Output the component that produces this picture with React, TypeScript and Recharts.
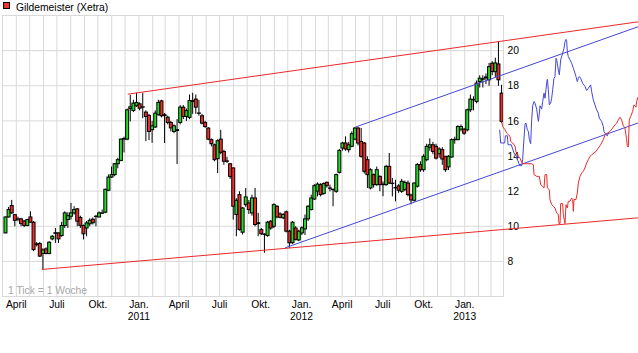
import React from 'react';
import {
  ComposedChart,
  Bar,
  Line,
  XAxis,
  YAxis,
  CartesianGrid,
  ReferenceLine,
} from 'recharts';

const FONT = "'Liberation Sans', Arial, sans-serif";
const FONT_SIZE = 10.3;
const GRID = '#d9d9d9';
const UP = '#28d828';
const DOWN = '#ee2c2c';
const RED_LINE = '#e82a2a';
const BLUE_LINE = '#4646d6';

// x axis is in days since 1 April 2010
const DAY0 = Date.UTC(2010, 3, 1);
const MS_DAY = 86400000;
const X_START = -31; // 1 March 2010
const X_END = 1093;

// weekly candles [open, high, low, close]
const firstCandleDay = -24;
const ohlc: [number, number, number, number][] = [
  [9.62, 10.55, 9.6, 10.53], [10.53, 11.1, 10.5, 10.95], [11.18, 11.5, 10.7, 10.76], [10.66, 10.7, 10.0, 10.34],
  [10.4, 10.55, 10.28, 10.42], [10.42, 10.48, 10.0, 10.15], [10.3, 10.35, 9.95, 10.05], [10.04, 10.42, 10.0, 10.38],
  [10.53, 10.85, 10.2, 10.23], [10.23, 10.3, 8.58, 8.67], [8.95, 9.1, 8.85, 9.0], [9.02, 9.1, 8.25, 8.3],
  [8.45, 8.75, 7.54, 8.65], [8.71, 8.8, 8.4, 8.45], [8.45, 9.15, 8.4, 9.09], [9.28, 9.5, 9.2, 9.43],
  [9.6, 9.9, 9.05, 9.63], [9.62, 9.65, 9.05, 9.28], [9.47, 10.25, 9.4, 10.04], [10.04, 10.85, 9.9, 10.76],
  [10.38, 10.8, 9.9, 10.6], [10.57, 11.33, 10.38, 10.76], [10.76, 11.14, 10.66, 10.95], [10.99, 11.04, 10.0, 10.29],
  [10.5, 10.6, 9.9, 10.05], [10.04, 10.1, 9.25, 9.57], [9.9, 10.3, 9.43, 10.19], [10.14, 10.45, 10.0, 10.34],
  [10.4, 10.5, 10.1, 10.2], [10.55, 10.65, 10.0, 10.57], [10.53, 10.85, 10.5, 10.76], [10.74, 10.95, 10.7, 10.76],
  [10.8, 12.15, 10.75, 12.1], [12.05, 12.95, 12.0, 12.8], [12.8, 13.4, 12.75, 12.94], [12.94, 13.6, 12.85, 13.56],
  [13.56, 13.9, 13.3, 13.79], [13.75, 15.0, 13.7, 14.96], [14.96, 15.1, 14.2, 15.0], [14.96, 16.7, 14.9, 16.63],
  [16.7, 17.48, 15.97, 16.8], [16.59, 17.2, 16.5, 17.01], [16.86, 17.6, 16.8, 17.05], [16.97, 17.05, 16.6, 16.72],
  [16.78, 17.6, 16.15, 16.8], [16.5, 16.6, 14.85, 16.25], [16.31, 16.4, 14.9, 15.4], [15.5, 16.0, 14.75, 15.72],
  [15.65, 16.6, 15.6, 16.44], [16.35, 17.2, 16.3, 17.05], [17.14, 17.2, 16.2, 16.29], [16.35, 16.45, 14.74, 16.3],
  [16.21, 16.3, 15.8, 15.91], [15.91, 16.0, 15.4, 15.6], [15.4, 15.8, 15.3, 15.72], [15.45, 16.1, 13.54, 15.5],
  [15.91, 16.9, 15.8, 16.78], [16.78, 16.9, 16.1, 16.25], [16.25, 16.7, 16.0, 16.59], [16.2, 17.5, 16.1, 17.16],
  [17.1, 17.6, 16.4, 17.15], [17.24, 17.5, 16.4, 16.78], [16.45, 17.2, 16.3, 16.44], [16.29, 16.4, 15.8, 15.87],
  [15.91, 16.0, 15.6, 15.68], [15.59, 15.65, 14.9, 14.96], [14.93, 15.0, 14.55, 14.7], [14.64, 14.7, 13.7, 13.79],
  [13.85, 14.95, 13.03, 14.87], [14.96, 15.49, 14.1, 14.21], [14.26, 14.35, 13.5, 13.7], [13.72, 13.95, 13.6, 13.7],
  [13.56, 13.6, 12.7, 12.84], [13.32, 13.35, 10.38, 11.14], [10.67, 11.6, 9.43, 11.48], [11.8, 11.99, 9.75, 9.81],
  [9.66, 11.1, 9.53, 11.04], [11.23, 12.18, 11.1, 11.67], [11.33, 11.5, 10.7, 10.95], [10.76, 11.8, 10.6, 11.61],
  [11.61, 12.18, 10.0, 10.1], [10.2, 10.76, 9.43, 10.15], [9.81, 9.9, 9.5, 9.58], [9.55, 9.6, 8.49, 9.53],
  [9.47, 10.3, 9.4, 10.23], [10.29, 10.35, 9.8, 9.9], [10.0, 11.3, 9.9, 11.23], [11.14, 11.2, 10.45, 10.53],
  [10.7, 10.8, 10.45, 10.51], [10.48, 10.75, 10.4, 10.67], [10.82, 10.9, 9.65, 9.72], [9.72, 9.8, 8.77, 9.06],
  [9.06, 10.3, 9.0, 10.23], [9.9, 10.0, 9.2, 9.24], [9.22, 9.8, 9.15, 9.72], [9.62, 10.0, 9.5, 9.91],
  [9.85, 10.67, 9.5, 10.42], [10.42, 11.2, 10.3, 11.14], [10.95, 11.8, 10.9, 11.61], [11.55, 12.4, 11.5, 12.31],
  [12.0, 12.5, 11.7, 12.4], [12.37, 12.45, 11.7, 11.8], [11.86, 12.5, 11.8, 12.43], [12.5, 12.55, 12.2, 12.31],
  [12.18, 12.37, 11.99, 12.16], [12.1, 12.15, 11.14, 12.09], [11.99, 13.0, 11.9, 12.94], [13.07, 14.4, 13.0, 14.32],
  [14.45, 14.8, 14.3, 14.74], [14.74, 15.12, 14.3, 14.4], [14.36, 14.8, 14.2, 14.64], [14.55, 15.4, 14.5, 15.27],
  [14.96, 15.65, 14.9, 15.59], [15.59, 15.65, 14.6, 14.74], [14.83, 15.6, 13.9, 13.98], [14.74, 14.8, 13.0, 13.13],
  [13.79, 13.98, 12.18, 12.94], [12.18, 13.3, 12.1, 13.22], [12.94, 13.0, 12.2, 12.37], [12.37, 13.4, 12.3, 13.22],
  [12.84, 12.9, 12.0, 12.37], [12.4, 12.55, 11.71, 12.37], [12.37, 13.5, 12.3, 13.41], [13.41, 14.17, 12.4, 12.46],
  [12.45, 12.75, 11.7, 12.43], [12.2, 12.65, 11.42, 12.18], [12.3, 12.4, 11.9, 12.05], [11.99, 12.7, 11.9, 12.56],
  [12.1, 12.6, 12.0, 12.5], [12.46, 12.6, 11.7, 11.8], [11.78, 11.85, 11.25, 11.5], [11.48, 12.5, 11.4, 12.46],
  [12.28, 13.6, 12.2, 13.51], [13.51, 13.7, 13.1, 13.22], [13.22, 14.1, 13.1, 13.98], [13.79, 14.7, 13.7, 14.55],
  [14.5, 15.0, 14.3, 14.64], [14.64, 14.8, 14.1, 14.26], [14.55, 14.7, 13.8, 13.88], [14.13, 14.5, 13.9, 14.4],
  [14.36, 14.5, 13.5, 13.83], [13.98, 14.0, 13.1, 13.22], [13.38, 14.05, 13.2, 13.98], [13.94, 15.0, 13.9, 14.93],
  [14.93, 15.1, 14.7, 14.95], [14.93, 15.75, 14.9, 15.68], [15.53, 15.8, 15.4, 15.68], [15.53, 15.6, 15.2, 15.3],
  [15.49, 16.7, 15.4, 16.63], [16.63, 17.5, 16.5, 17.24], [17.2, 17.4, 16.6, 17.22], [17.1, 18.3, 17.0, 18.15],
  [18.24, 18.6, 17.9, 18.43], [18.37, 18.6, 17.9, 18.4], [18.45, 18.7, 18.1, 18.5], [18.34, 19.3, 18.0, 19.09],
  [19.28, 19.4, 18.6, 18.81], [18.8, 19.6, 18.5, 19.3], [19.24, 20.51, 18.0, 18.34], [17.58, 18.05, 15.87, 15.97],
];

const quarterLabels = ['Jan.', 'April', 'Juli', 'Okt.'];
const yTicks = [6, 8, 10, 12, 14, 16, 18, 20, 22];

// trend lines [day, price]
const redUpper: [number, number][] = [[250, 17.52], [1395, 21.64]];
const redLower: [number, number][] = [[57, 7.54], [1395, 10.48]];
const blueUpper: [number, number][] = [[761, 15.65], [1395, 21.36]];
const blueLower: [number, number][] = [[603, 8.77], [1395, 15.88]];

// projections [days after last candle, price]
const redProjection: [number, number][] = [
  [0, 15.97], [2.2, 15.68], [7.4, 15.49], [11.2, 15.3], [14.9, 15.21], [18.6, 15.12], [20.1, 14.83],
  [24.6, 14.74], [27.6, 14.64], [29.9, 14.55], [32.1, 14.21], [35.1, 14.17], [37.3, 13.98], [41.1, 13.88],
  [44.8, 13.64], [48.5, 13.56], [56, 13.56], [67.2, 13.56], [71, 13.5], [72.5, 12.94], [78.4, 12.84],
  [84.4, 12.84], [87.4, 12.37], [91.9, 12.27], [94.9, 12.18], [97.1, 12.94], [100.9, 12.94], [102.4, 12.18],
  [106.8, 12.08], [108.3, 11.52], [112.1, 11.23], [115.8, 11.14], [119.5, 11.04], [123.3, 10.76], [127, 10.66],
  [128.5, 10.15], [130.8, 10.15], [132.3, 11.29], [136.7, 11.29], [138.2, 10.66], [142, 10.15], [144.2, 11.23],
  [147.2, 11.04], [149.4, 11.42], [153.2, 11.42], [156.9, 11.61], [159.2, 11.52], [160.7, 10.85], [162.1, 11.52],
  [166.6, 11.52], [169.6, 11.89], [171.9, 12.46], [175.6, 12.84], [179.3, 13.03], [183.1, 13.13], [186.8, 13.32],
  [190.5, 13.6], [194.3, 13.79], [198, 13.98], [201.8, 14.07], [207, 14.17], [211.5, 14.26], [216.7, 14.45],
  [222, 14.64], [227.9, 14.93], [231.7, 15.21], [236.9, 15.3], [242.9, 15.4], [248.8, 15.59], [254.1, 15.78],
  [257.8, 15.87], [261.5, 16.06], [265.3, 16.21], [269, 16.06], [272.8, 15.72], [276.5, 15.59], [278.7, 15.21],
  [280.2, 14.93], [281.7, 14.58], [284, 14.51], [286.2, 16.06], [289.2, 16.25], [293.7, 16.54], [296.7, 16.91],
  [301.2, 16.78], [302.7, 17.1], [305.6, 17.35],
];
const blueProjection: [number, number][] = [
  [-4.5, 15.49], [-2.3, 14.74], [6.7, 14.74], [8.2, 15.15], [12.7, 15.15], [14.2, 14.64], [21.6, 14.64],
  [23.9, 14.45], [27.6, 14.17], [32.8, 13.98], [40.3, 13.45], [44.8, 13.45], [47, 13.79], [48.5, 14.45],
  [50.8, 15.3], [52.3, 15.83], [54.5, 15.87], [57.5, 15.49], [59.8, 15.4], [62, 14.93], [65, 14.7],
  [67.2, 16.06], [69.5, 16.86], [72.5, 17.1], [74.7, 17.01], [78.4, 16.67], [82.2, 15.97], [84.4, 16.4],
  [85.9, 16.86], [89.6, 16.67], [91.9, 17.1], [94.9, 17.58], [97.1, 17.29], [100.9, 18.15], [102.4, 18.37],
  [104.6, 17.77], [106.8, 16.91], [109.8, 17.01], [112.1, 17.29], [114.3, 17.77], [117.3, 18.43], [119.5, 18.52],
  [121.8, 19.57], [123.3, 19.51], [127, 18.9], [129.3, 18.62], [132.3, 19.47], [136.7, 19.85], [139.7, 20.13],
  [142, 20.51], [144.2, 20.64], [145.7, 20.57], [147.2, 19.94], [149.4, 19.66], [153.2, 19.47], [156.9, 19.28],
  [160.7, 19.0], [164.4, 18.71], [166.6, 18.52], [169.6, 18.24], [171.9, 18.43], [174.1, 18.52], [177.1, 18.43],
  [181.6, 18.14], [186.8, 17.96], [190.5, 17.73], [194.3, 17.86], [198, 17.99], [199.5, 18.05], [201.8, 17.67],
  [205.5, 17.2], [209.2, 16.91], [213, 16.63], [216.7, 16.44], [219, 16.16], [224.2, 15.97], [227.9, 15.68],
  [229.4, 15.4], [233.9, 15.21], [236.9, 15.15], [239.1, 15.3],
];

// layout
const W = 638;
const H = 353;
const TOP = 15.5;
const BOTTOM = 56.5;
const LEFT = 2.5;
const Y_AXIS_W = 134.5;
const PLOT_W = W - LEFT - Y_AXIS_W;
const PX_PER_DAY = PLOT_W / (X_END - X_START);
const OVERLAY_END = X_START + (W - LEFT) / PX_PER_DAY;

const candleData = ohlc.map(([o, h, l, c], i) => ({
  d: firstCandleDay + 7 * i,
  o,
  h,
  l,
  c,
  range: [l, h],
}));
const lastDay = candleData[candleData.length - 1].d;

const monthTicks: number[] = [];
for (let m = -1; m <= 35; m++) {
  monthTicks.push((Date.UTC(2010, 3 + m, 1) - DAY0) / MS_DAY);
}

const toPoints = (pts: [number, number][], base = 0) => pts.map(([d, v]) => ({ d: base + d, v }));

const Candle = (props: any) => {
  const { x, y, width, height, payload } = props;
  if (x == null || y == null) return null;
  const top = Math.min(y, y + height);
  const bottom = Math.max(y, y + height);
  const { o, h, l, c } = payload;
  const span = h - l || 1;
  const py = (v: number) => top + ((h - v) / span) * (bottom - top);
  const cx = x + width / 2;
  const yo = py(o);
  const yc = py(c);
  return (
    <g>
      <line x1={cx} x2={cx} y1={top} y2={bottom} stroke="#000" strokeWidth={1} />
      <rect
        x={cx - 1.5}
        y={Math.min(yo, yc)}
        width={3}
        height={Math.max(Math.abs(yc - yo), 0.3)}
        fill={c >= o ? UP : DOWN}
        stroke="#000"
        strokeWidth={1}
      />
    </g>
  );
};

const MonthTick = ({ x, y, payload }: any) => {
  const date = new Date(DAY0 + payload.value * MS_DAY);
  const m = date.getUTCMonth();
  if (m % 3 !== 0) return <g />;
  return (
    <g fontFamily={FONT} fontSize={FONT_SIZE} fill="#000">
      <text x={x} y={y + 11.5} textAnchor="middle">
        {quarterLabels[m / 3]}
      </text>
      {m === 0 && (
        <text x={x} y={y + 23.5} textAnchor="middle">
          {date.getUTCFullYear()}
        </text>
      )}
    </g>
  );
};

const lineProps = {
  dataKey: 'v',
  type: 'linear' as const,
  dot: false,
  strokeWidth: 1,
  isAnimationActive: false,
};

export default function App() {
  return (
    <div style={{ position: 'absolute', left: 0, top: 0, width: W, height: H, background: '#fff' }}>
      <ComposedChart
        width={W}
        height={H}
        data={candleData}
        margin={{ top: TOP, right: 0, bottom: 0, left: LEFT }}
        style={{ position: 'absolute', left: 0, top: 0 }}
      >
        <CartesianGrid stroke={GRID} />
        <XAxis
          dataKey="d"
          type="number"
          domain={[X_START, X_END]}
          allowDataOverflow
          ticks={monthTicks}
          interval={0}
          height={BOTTOM}
          tickLine={false}
          axisLine={false}
          tickSize={0}
          tickMargin={0}
          tick={<MonthTick />}
        />
        <YAxis
          orientation="right"
          type="number"
          domain={[6, 22]}
          allowDataOverflow
          ticks={yTicks}
          interval={0}
          width={Y_AXIS_W}
          tickLine={false}
          axisLine={false}
          tickSize={0}
          tickMargin={4}
          tick={{ fill: '#000', fontSize: FONT_SIZE, fontFamily: FONT }}
          tickFormatter={(v: number) => (v === 6 || v === 22 ? '' : String(v))}
        />
        <ReferenceLine x={X_START} stroke={GRID} />
        <ReferenceLine x={X_END} stroke={GRID} />
        <ReferenceLine y={6} stroke={GRID} />
        <ReferenceLine y={22} stroke={GRID} />
        <Bar dataKey="range" barSize={4} shape={<Candle />} isAnimationActive={false} />
      </ComposedChart>

      <ComposedChart
        width={W}
        height={H}
        margin={{ top: TOP, right: 0, bottom: BOTTOM, left: LEFT }}
        style={{ position: 'absolute', left: 0, top: 0 }}
      >
        <XAxis dataKey="d" type="number" domain={[X_START, OVERLAY_END]} allowDataOverflow hide />
        <YAxis type="number" domain={[6, 22]} allowDataOverflow hide />
        <Line {...lineProps} data={toPoints(redUpper)} stroke={RED_LINE} />
        <Line {...lineProps} data={toPoints(redLower)} stroke={RED_LINE} />
        <Line {...lineProps} data={toPoints(blueUpper)} stroke={BLUE_LINE} />
        <Line {...lineProps} data={toPoints(blueLower)} stroke={BLUE_LINE} />
        <Line {...lineProps} data={toPoints(blueProjection, lastDay)} stroke={BLUE_LINE} />
        <Line {...lineProps} data={toPoints(redProjection, lastDay)} stroke={RED_LINE} />
      </ComposedChart>

      <svg width={W} height={H} style={{ position: 'absolute', left: 0, top: 0, pointerEvents: 'none' }}>
        <rect x={3.5} y={2.5} width={6} height={6} fill="#ee3333" stroke="#000" strokeWidth={1} />
        <text x={16} y={10.5} fontFamily={FONT} fontSize={FONT_SIZE} fill="#000">
          Gildemeister (Xetra)
        </text>
        <text x={8} y={293.5} fontFamily={FONT} fontSize={FONT_SIZE} fill="#a6a6a6">
          1 Tick = 1 Woche
        </text>
      </svg>
    </div>
  );
}
